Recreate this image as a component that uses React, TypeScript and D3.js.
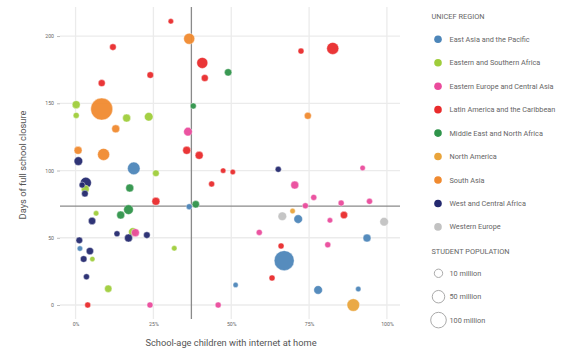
import React, { FC, useEffect, useRef } from "react"
import { select, scaleLinear, scaleSqrt, axisLeft, axisBottom, format } from "d3"

// regions and their colours
const regions = [
  "East Asia and the Pacific",
  "Eastern and Southern Africa",
  "Eastern Europe and Central Asia",
  "Latin America and the Caribbean",
  "Middle East and North Africa",
  "North America",
  "South Asia",
  "West and Central Africa",
  "Western Europe",
]
const regionColors = [
  "#4d86b9",
  "#9fcd3b",
  "#ea4b9c",
  "#e92b2c",
  "#2f944a",
  "#e9a43b",
  "#f08a2f",
  "#24296f",
  "#c2c2c2",
]

// one entry per country (region index, share with internet, days closed, students in millions)
const pointRegion = [
  0, 0, 0, 0, 0, 0, 0, 0, 0,
  1, 1, 1, 1, 1, 1, 1, 1, 1, 1, 1,
  2, 2, 2, 2, 2, 2, 2, 2, 2, 2, 2, 2, 2,
  3, 3, 3, 3, 3, 3, 3, 3, 3, 3, 3, 3, 3, 3, 3, 3, 3, 3,
  4, 4, 4, 4, 4, 4,
  5, 5,
  6, 6, 6, 6, 6, 6,
  7, 7, 7, 7, 7, 7, 7, 7, 7, 7, 7, 7, 7,
  8, 8,
]
const internetShare = [
  0.187, 0.014, 0.365, 0.715, 0.67, 0.514, 0.779, 0.908, 0.936,
  0.002, 0.002, 0.164, 0.235, 0.258, 0.031, 0.066, 0.184, 0.054, 0.317, 0.105,
  0.361, 0.192, 0.239, 0.458, 0.704, 0.59, 0.922, 0.765, 0.738, 0.853, 0.944, 0.817, 0.81,
  0.306, 0.12, 0.24, 0.084, 0.407, 0.415, 0.357, 0.397, 0.724, 0.826, 0.474, 0.505, 0.437, 0.258, 0.862, 0.66, 0.631, 0.039,
  0.49, 0.378, 0.174, 0.17, 0.145, 0.386,
  0.892, 0.697,
  0.084, 0.365, 0.129, 0.008, 0.09, 0.746,
  0.009, 0.033, 0.021, 0.03, 0.053, 0.133, 0.17, 0.229, 0.012, 0.046, 0.026, 0.035, 0.651,
  0.664, 0.991,
]
const closureDays = [
  101.6, 42, 73.1, 63.9, 33, 14.9, 11.2, 11.9, 49.8,
  149, 141, 139, 140, 98, 86.2, 68.2, 54.3, 34.2, 42.2, 12.1,
  128.9, 53.8, 0, 0, 89.2, 54, 101.9, 80, 73.8, 75.8, 77.1, 63, 44.8,
  211, 191.8, 171, 165, 180, 168.8, 115, 111.3, 188.8, 190.8, 99.9, 98.9, 90, 77.1, 66.9, 43.9, 20.1, 0,
  173, 148, 87, 70.9, 66.9, 74.9,
  0, 69.9,
  145.7, 198, 131, 115, 112, 140.7,
  107, 90.9, 89.2, 82.8, 62.5, 53, 49.8, 52, 48.1, 40.1, 34.2, 21, 100.9,
  66, 61.9,
]
const studentsM = [
  51, 0.15, 0.9, 11.5, 200, 0.05, 11.5, 0.15, 8,
  8, 0.9, 8, 11.5, 2.3, 8, 0.15, 11.5, 0.05, 0.15, 5,
  11.5, 8, 0.9, 0.9, 8, 0.9, 0.15, 0.9, 0.9, 0.9, 0.9, 0.15, 0.9,
  0.15, 2.3, 2.3, 3.6, 32, 3.6, 8, 8, 0.9, 44, 0.15, 0.15, 0.9, 8, 5, 0.9, 0.9, 0.9,
  5, 0.9, 8, 19, 8, 5,
  51, 0.15,
  257, 32, 8, 8, 44, 3.6,
  11.5, 32, 0.9, 2.3, 5, 0.9, 8, 2.3, 2.3, 5, 2.3, 0.9, 0.9,
  11.5, 11.5,
]

const yTicks = [0, 50, 100, 150, 200]
const xTicks = [0, 0.25, 0.5, 0.75, 1]
const sizeLegend = [10, 50, 100]
const sizeLabels = ["10 million", "50 million", "100 million"]

// median reference lines
const medianInternet = 0.372
const medianDays = 73.6

const FONT = "Roboto, 'Noto Sans', sans-serif"

const App: FC = () => {
  const svgRef = useRef<SVGSVGElement>(null)

  useEffect(() => {
    const svg = select(svgRef.current)
    svg.selectAll("*").remove()

    const plot = { left: 60, right: 400, top: 7, bottom: 319 }

    const x = scaleLinear().domain([-0.05, 1.042]).range([plot.left, plot.right])
    const y = scaleLinear().domain([-10.4, 221.6]).range([plot.bottom, plot.top])
    const r = scaleSqrt().domain([0, 100]).range([2.5, 7.8])

    // grid
    const grid = svg.append("g")
    grid
      .selectAll("line.h")
      .data(yTicks)
      .join("line")
      .attr("x1", plot.left)
      .attr("x2", plot.right)
      .attr("y1", (d) => y(d))
      .attr("y2", (d) => y(d))
      .attr("stroke", "#ebebeb")
      .attr("stroke-width", 1.3)
    grid
      .selectAll("line.v")
      .data(xTicks)
      .join("line")
      .attr("class", "v")
      .attr("y1", plot.top)
      .attr("y2", plot.bottom)
      .attr("x1", (d) => x(d))
      .attr("x2", (d) => x(d))
      .attr("stroke", "#ebebeb")
      .attr("stroke-width", 1.3)

    // axes
    const yAxis = svg
      .append("g")
      .attr("transform", `translate(${plot.left},0)`)
      .call(axisLeft(y).tickValues(yTicks).tickSize(3).tickPadding(3))
    const xAxis = svg
      .append("g")
      .attr("transform", `translate(0,${plot.bottom})`)
      .call(
        axisBottom(x)
          .tickValues(xTicks)
          .tickSize(0)
          .tickPadding(3)
          .tickFormat(format(".0%")),
      )
    ;[yAxis, xAxis].forEach((a) => {
      a.select(".domain").remove()
      a.selectAll(".tick line").attr("stroke", "#bbb")
      a.selectAll(".tick text")
        .attr("fill", "#666")
        .style("font-family", FONT)
        .style("font-size", "5.2px")
    })

    // reference lines
    svg
      .append("line")
      .attr("x1", x(medianInternet))
      .attr("x2", x(medianInternet))
      .attr("y1", plot.top)
      .attr("y2", plot.bottom)
      .attr("stroke", "#8a8a8a")
      .attr("stroke-width", 1.3)
    svg
      .append("line")
      .attr("x1", plot.left)
      .attr("x2", plot.right)
      .attr("y1", y(medianDays))
      .attr("y2", y(medianDays))
      .attr("stroke", "#8a8a8a")
      .attr("stroke-width", 1.3)

    // bubbles, biggest first
    const idx = pointRegion.map((_, i) => i).sort((a, b) => studentsM[b] - studentsM[a])
    svg
      .append("g")
      .selectAll("circle")
      .data(idx)
      .join("circle")
      .attr("cx", (i) => x(internetShare[i]))
      .attr("cy", (i) => y(closureDays[i]))
      .attr("r", (i) => r(studentsM[i]))
      .attr("fill", (i) => regionColors[pointRegion[i]])
      .attr("fill-opacity", 0.95)
      .attr("stroke", "#fff")
      .attr("stroke-width", 0.4)

    // axis titles
    svg
      .append("text")
      .text("School-age children with internet at home")
      .attr("x", 231)
      .attr("y", 346)
      .attr("text-anchor", "middle")
      .attr("fill", "#555")
      .style("font-family", FONT)
      .style("font-size", "9.3px")
    svg
      .append("text")
      .text("Days of full school closure")
      .attr("transform", "translate(26,165) rotate(-90)")
      .attr("text-anchor", "middle")
      .attr("fill", "#555")
      .style("font-family", FONT)
      .style("font-size", "9.3px")

    // legend
    const legend = svg.append("g")
    const header = (label: string, yy: number, len: number) =>
      legend
        .append("text")
        .text(label)
        .attr("x", 431.5)
        .attr("y", yy)
        .attr("fill", "#666")
        .attr("textLength", len)
        .attr("lengthAdjust", "spacingAndGlyphs")
        .style("font-family", FONT)
        .style("font-size", "8px")
    header("UNICEF REGION", 19, 53)
    header("STUDENT POPULATION", 253.5, 78)

    const rowY = (i: number) => 39.3 + i * 23.45
    legend
      .selectAll("circle.reg")
      .data(regions)
      .join("circle")
      .attr("class", "reg")
      .attr("cx", 438)
      .attr("cy", (_, i) => rowY(i))
      .attr("r", 3.8)
      .attr("fill", (_, i) => regionColors[i])
    legend
      .selectAll("text.reg")
      .data(regions)
      .join("text")
      .attr("class", "reg")
      .text((d) => d)
      .attr("x", 449.5)
      .attr("y", (_, i) => rowY(i))
      .attr("dy", "0.35em")
      .attr("fill", "#666")
      .style("font-family", FONT)
      .style("font-size", "7.3px")

    const sizeY = (i: number) => 273.3 + i * 23.4
    legend
      .selectAll("circle.size")
      .data(sizeLegend)
      .join("circle")
      .attr("class", "size")
      .attr("cx", 438.5)
      .attr("cy", (_, i) => sizeY(i))
      .attr("r", (d) => r(d))
      .attr("fill", "#fff")
      .attr("stroke", "#aaa")
      .attr("stroke-width", 1)
    legend
      .selectAll("text.size")
      .data(sizeLabels)
      .join("text")
      .attr("class", "size")
      .text((d) => d)
      .attr("x", 449.5)
      .attr("y", (_, i) => sizeY(i))
      .attr("dy", "0.35em")
      .attr("fill", "#666")
      .style("font-family", FONT)
      .style("font-size", "7.3px")
  }, [])

  return (
    <svg
      ref={svgRef}
      width={566}
      height={350}
      style={{ position: "absolute", left: 0, top: 0, background: "#fff" }}
    />
  )
}

export default App
